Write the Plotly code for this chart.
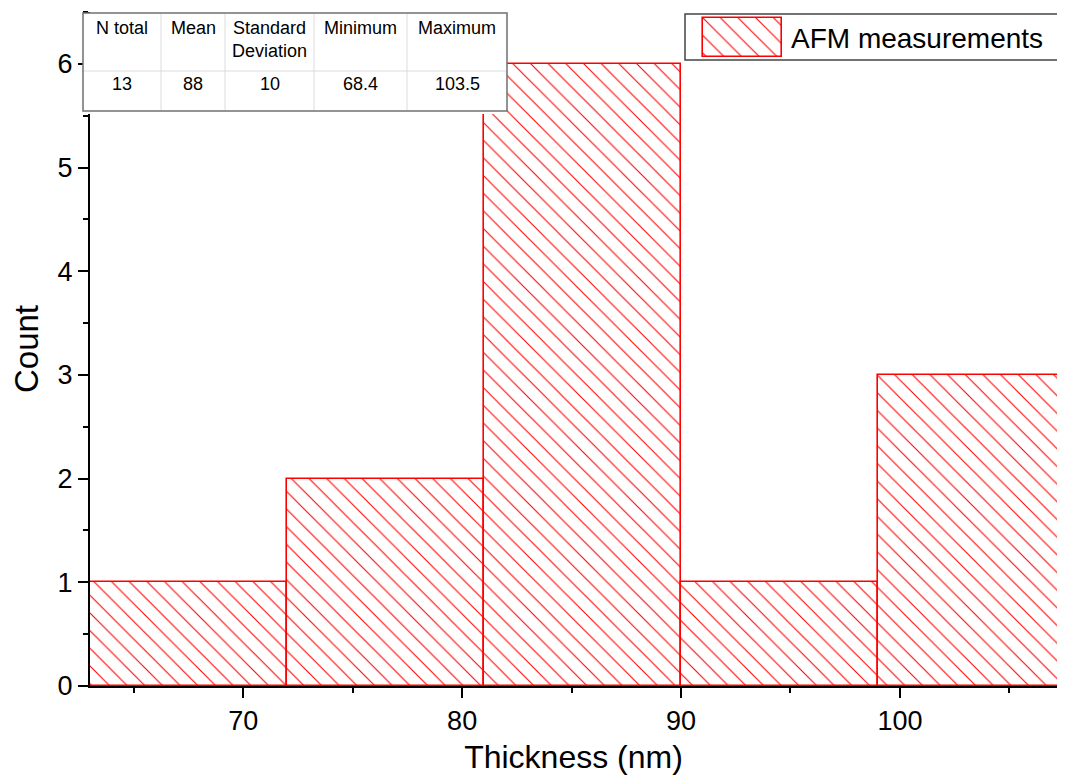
import plotly.graph_objects as go

# ---- data ----
bin_starts = [63, 72, 81, 90, 99]
bin_width = 9
counts = [1, 2, 6, 1, 3]
series_name = "AFM measurements"

stat_headers = ["N total", "Mean", "Standard<br>Deviation", "Minimum", "Maximum"]
stat_values = ["13", "88", "10", "68.4", "103.5"]

x_title = "Thickness (nm)"
y_title = "Count"

# ---- layout geometry (viewport pixels; page body has an 8px margin) ----
OFF = 8
W, H = 1065 - 2 * OFF, 783 - 2 * OFF
ML = 90 - OFF
PLOT_BOTTOM = 686 - OFF
MT = 12 - OFF
MR = 0
MB = H - PLOT_BOTTOM
PW, PH = W - ML - MR, H - MT - MB


def px(x):
    return (x - OFF - ML) / PW


def py(y):
    return (H - MB - (y - OFF)) / PH


FONT = "Liberation Sans, Arial, sans-serif"
RED = "#ff0000"

centers = [s + bin_width / 2 for s in bin_starts]
hatch = dict(shape="\\", size=12.5, solidity=0.085, fgopacity=1,
             fgcolor=RED, bgcolor="white", fillmode="overlay")

fig = go.Figure()
fig.add_trace(go.Bar(
    x=centers, y=counts, width=[bin_width] * len(counts),
    name=series_name,
    marker=dict(color="white", line=dict(color=RED, width=1.6), pattern=hatch),
    showlegend=False,
))

# legend swatch (drawn on its own small hidden axes)
fig.add_trace(go.Bar(
    x=[0], y=[1], width=[1], name=series_name, xaxis="x2", yaxis="y2",
    marker=dict(color="white", line=dict(color=RED, width=1.6), pattern=hatch),
    showlegend=False, hoverinfo="skip", cliponaxis=False,
))

shapes = []
# legend box
shapes.append(dict(type="rect", xref="paper", yref="paper",
                   x0=px(685), x1=px(1075), y0=py(60), y1=py(14),
                   fillcolor="white", line=dict(color="#444444", width=1.5),
                   layer="below"))

# ---- statistics table (shapes + annotations) ----
col_edges = [83, 161, 225, 314, 407, 507]
row_top, row_mid, row_bot = 13, 71, 111
shapes.append(dict(type="rect", xref="paper", yref="paper",
                   x0=px(col_edges[0]), x1=px(col_edges[-1]),
                   y0=py(row_bot + 3), y1=py(row_top),
                   fillcolor="white", line=dict(width=0), layer="above"))
shapes.append(dict(type="line", xref="paper", yref="paper",
                   x0=px(col_edges[0]), x1=px(col_edges[-1]),
                   y0=py(row_mid), y1=py(row_mid),
                   line=dict(color="#dcdcdc", width=1), layer="above"))
for ce in col_edges[1:-1]:
    shapes.append(dict(type="line", xref="paper", yref="paper",
                       x0=px(ce), x1=px(ce), y0=py(row_bot), y1=py(row_top),
                       line=dict(color="#dcdcdc", width=1), layer="above"))
shapes.append(dict(type="rect", xref="paper", yref="paper",
                   x0=px(col_edges[0]), x1=px(col_edges[-1]),
                   y0=py(row_bot), y1=py(row_top),
                   fillcolor="rgba(0,0,0,0)", line=dict(color="#707070", width=1.5),
                   layer="above"))

annotations = []
for i, (hdr, val) in enumerate(zip(stat_headers, stat_values)):
    cx = (col_edges[i] + col_edges[i + 1]) / 2
    annotations.append(dict(xref="paper", yref="paper", x=px(cx), y=py(16),
                            xanchor="center", yanchor="top", text=hdr,
                            showarrow=False, align="center",
                            font=dict(family=FONT, size=18, color="black")))
    annotations.append(dict(xref="paper", yref="paper", x=px(cx), y=py(84),
                            xanchor="center", yanchor="middle", text=val,
                            showarrow=False,
                            font=dict(family=FONT, size=18, color="black")))
# legend text
annotations.append(dict(xref="paper", yref="paper", x=px(789), y=py(39),
                        xanchor="left", yanchor="middle", text=series_name,
                        showarrow=False,
                        font=dict(family=FONT, size=28, color="black")))

# x range: left edge 63, scale ~21.89 px per nm across the plot width
x_left = 63
x_right = x_left + PW / 21.89

fig.update_layout(
    width=W, height=H,
    margin=dict(l=ML, r=MR, t=MT, b=MB, pad=0),
    paper_bgcolor="white", plot_bgcolor="white",
    font=dict(family=FONT, color="black"),
    bargap=0,
    shapes=shapes,
    annotations=annotations,
    showlegend=False,
    xaxis=dict(
        range=[x_left, x_right], tick0=0, dtick=10,
        ticks="outside", ticklen=10, tickwidth=2, tickcolor="black",
        showline=True, linecolor="black", linewidth=2,
        showgrid=False, zeroline=False,
        tickfont=dict(family=FONT, size=27, color="black"),
        title=dict(text=x_title, font=dict(family=FONT, size=32, color="black"), standoff=15),
        minor=dict(dtick=5, tick0=0, ticks="outside", ticklen=5, tickwidth=2,
                   tickcolor="black", showgrid=False),
    ),
    yaxis=dict(
        range=[0, 6.5], tick0=0, dtick=1,
        ticks="outside", ticklen=10, tickwidth=2, tickcolor="black",
        showline=True, linecolor="black", linewidth=2,
        showgrid=False, zeroline=False,
        tickfont=dict(family=FONT, size=27, color="black"),
        title=dict(text=y_title, font=dict(family=FONT, size=33, color="black"), standoff=11),
        minor=dict(dtick=0.5, tick0=0, ticks="outside", ticklen=5, tickwidth=2,
                   tickcolor="black", showgrid=False),
    ),
    xaxis2=dict(domain=[px(701), px(784)], anchor="y2", range=[-0.525, 0.525],
                visible=False, fixedrange=True),
    yaxis2=dict(domain=[py(59), py(16)], anchor="x2", range=[-0.05, 1.05],
                visible=False, fixedrange=True),
)

fig.write_html("out.html")
